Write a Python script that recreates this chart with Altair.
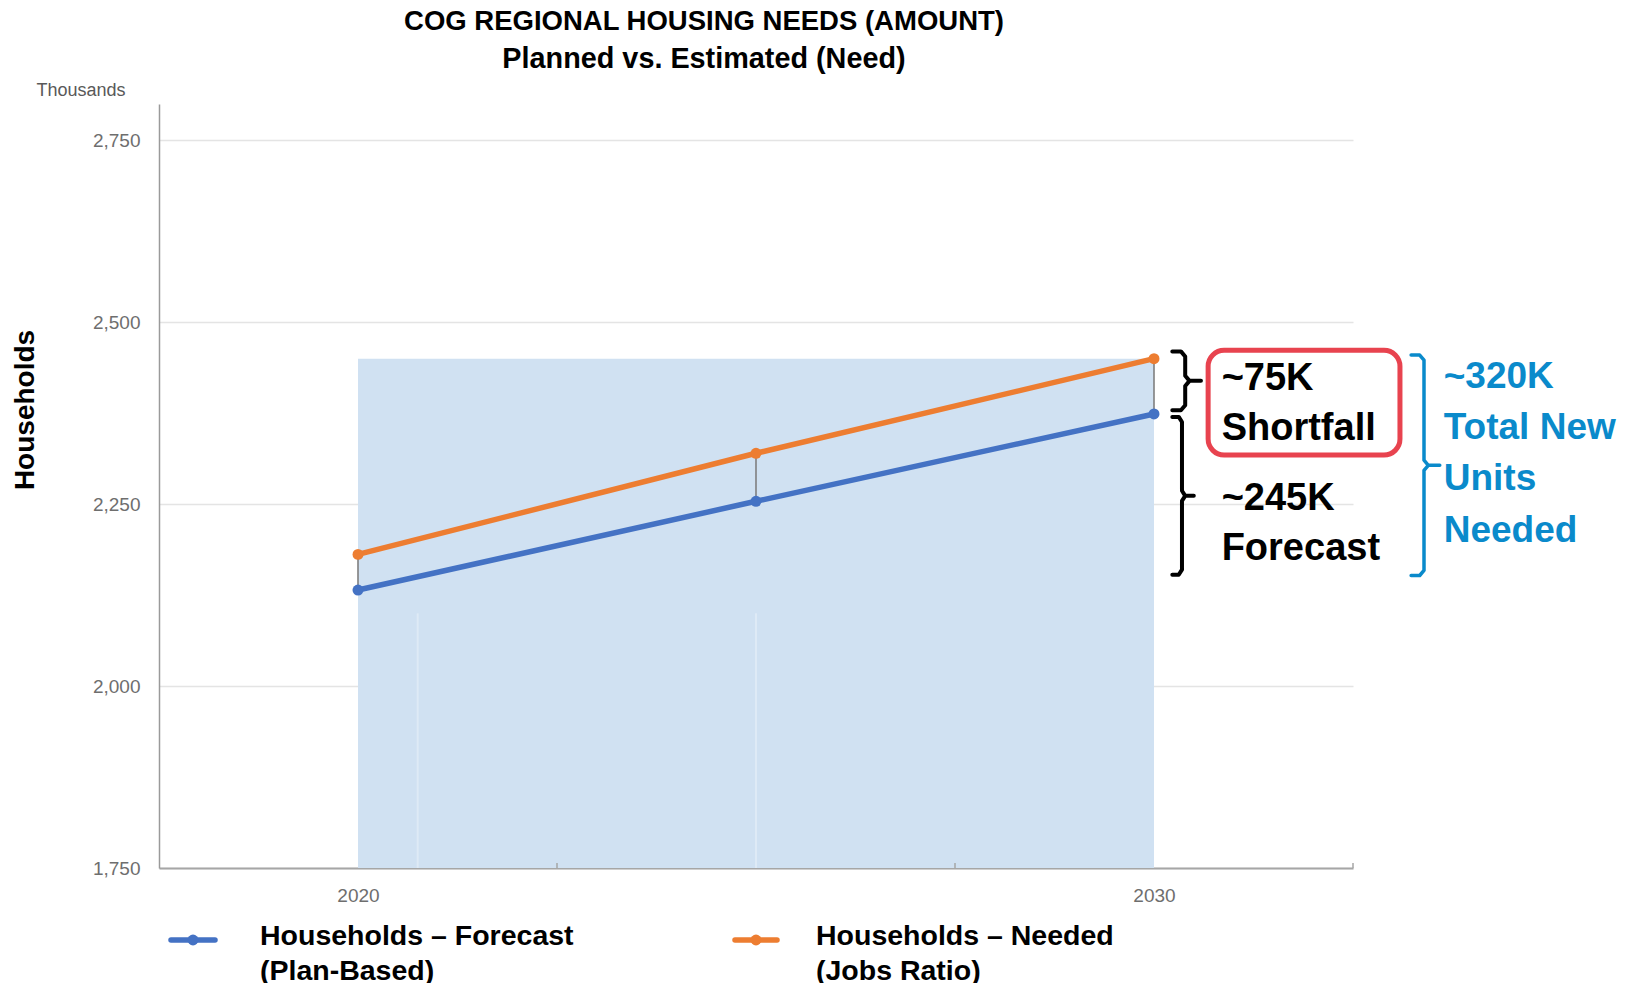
import altair as alt
import pandas as pd

# ---------------- data ----------------
years = [2020, 2025, 2030]
forecast = [2132, 2254, 2374]     # Households – Forecast (Plan-Based), thousands
needed = [2181, 2320, 2450]       # Households – Needed (Jobs Ratio), thousands
series_names = ["Households – Forecast", "Households – Needed"]
series_sub = ["(Plan-Based)", "(Jobs Ratio)"]
series_colors = ["#4472c4", "#ed7d31"]
y_ticks = [1750, 2000, 2250, 2500, 2750]
x_labels = [2020, 2030]
x_minor_ticks = [2022.5, 2027.5, 2032.5]
title_lines = ["COG REGIONAL HOUSING NEEDS (AMOUNT)", "Planned vs. Estimated (Need)"]
shortfall_text = ["~75K", "Shortfall"]
forecast_text = ["~245K", "Forecast"]
total_text = ["~320K", "Total New", "Units", "Needed"]

NARROW = "Liberation Sans Narrow, Arial Narrow, Liberation Sans, sans-serif"
SANS = "Liberation Sans, Arial, sans-serif"

xs = alt.Scale(domain=[2017.5, 2032.5], nice=False, zero=False)
ys = alt.Scale(domain=[1750, 2800], nice=False, zero=False)
xaxis = alt.Axis(values=x_labels, format="d", title=None, grid=False, ticks=False,
                 labelFontSize=19, labelColor="#6e6e6e", labelFont=SANS, labelPadding=18,
                 domainColor="#a6a6a6", domainWidth=2, labelBaseline="top")
yaxis = alt.Axis(values=y_ticks, format=",.0f", title=None, grid=True, gridColor="#e4e4e4",
                 gridWidth=1.5, ticks=False, labelFontSize=19, labelColor="#6e6e6e",
                 labelFont=SANS, labelPadding=19, domainColor="#9a9a9a", domainWidth=1.5)


def X(f):
    return alt.X(f, type="quantitative", scale=xs, axis=xaxis)


def Y(f):
    return alt.Y(f, type="quantitative", scale=ys, axis=yaxis)


long_df = pd.DataFrame({
    "year": years * 2,
    "value": forecast + needed,
    "series": [series_names[0]] * 3 + [series_names[1]] * 3,
})
wide_df = pd.DataFrame({"year": years, "forecast": forecast, "needed": needed})

# shaded background band
shade = alt.Chart(pd.DataFrame({"x": [years[0]], "x2": [years[-1]], "y": [y_ticks[0]],
                                "y2": [needed[-1]]})).mark_rect(color="#d0e1f2").encode(
    x=X("x"), x2="x2", y=Y("y"), y2="y2")

# faint light streaks in the band
streaks = alt.Chart(pd.DataFrame({"x": [2020.75, 2025.0], "y": [1750, 1750],
                                  "y2": [2100, 2100]})).mark_rule(
    color="white", opacity=0.3, strokeWidth=2).encode(x=X("x"), y=Y("y"), y2="y2")

# small inward ticks on x axis
minor = alt.Chart(pd.DataFrame({"x": x_minor_ticks, "y": [1750] * 3,
                                "y2": [1757] * 3})).mark_rule(
    color="#a6a6a6", strokeWidth=1.5).encode(x=X("x"), y=Y("y"), y2="y2")

# high-low connectors
hilo = alt.Chart(wide_df).mark_rule(color="#7f7f7f", strokeWidth=1.6).encode(
    x=X("year"), y=Y("forecast"), y2="needed")

color = alt.Color("series:N", scale=alt.Scale(domain=series_names, range=series_colors),
                  legend=None)
lines = alt.Chart(long_df).mark_line(strokeWidth=5.5, strokeCap="round").encode(
    x=X("year"), y=Y("value"), color=color)
points = alt.Chart(long_df).mark_circle(size=120, opacity=1).encode(
    x=X("year"), y=Y("value"), color=color)


# braces (annotation geometry)
def brace(name, x0, w, top, bottom, d):
    mid = (top + bottom) / 2
    xs_ = [x0, x0 + 0.3 * w, x0 + 0.45 * w, x0 + 0.45 * w, x0 + 0.6 * w, x0 + w,
           x0 + 0.6 * w, x0 + 0.45 * w, x0 + 0.45 * w, x0 + 0.3 * w, x0]
    ys_ = [top, top, top - d, mid + d, mid, mid, mid, mid - d, bottom + d, bottom, bottom]
    return pd.DataFrame({"g": name, "o": list(range(len(xs_))), "x": xs_, "y": ys_})


black_braces = pd.concat([
    brace("b1", 2030.23, 0.36, 2460, 2379, 7),
    brace("b2", 2030.23, 0.27, 2370, 2153, 7),
])
blue_brace = brace("b3", 2033.23, 0.36, 2455, 2152, 7)

braces_black = alt.Chart(black_braces).mark_line(
    color="black", strokeWidth=4, strokeJoin="round", strokeCap="round").encode(
    x=X("x"), y=Y("y"), detail="g:N", order="o:Q")
braces_blue = alt.Chart(blue_brace).mark_line(
    color="#0a8acb", strokeWidth=3.5, strokeJoin="round", strokeCap="round").encode(
    x=X("x"), y=Y("y"), detail="g:N", order="o:Q")

red_box = alt.Chart(pd.DataFrame({"x": [2030.68], "x2": [2033.09], "y": [2317.5],
                                  "y2": [2461.6]})).mark_rect(
    fillOpacity=0, stroke="#e8434f", strokeWidth=5, cornerRadius=16).encode(
    x=X("x"), x2="x2", y=Y("y"), y2="y2")

ann_black = pd.DataFrame({"x": [2030.85] * 4, "y": [2422, 2353, 2257, 2188],
                          "t": shortfall_text + forecast_text})
txt_black = alt.Chart(ann_black).mark_text(
    align="left", baseline="middle", font=SANS, fontWeight="bold", fontSize=38,
    color="black").encode(x=X("x"), y=Y("y"), text="t:N")
ann_blue = pd.DataFrame({"x": [2033.64] * 4, "y": [2425, 2355, 2285, 2213],
                         "t": total_text})
txt_blue = alt.Chart(ann_blue).mark_text(
    align="left", baseline="middle", font=SANS, fontWeight="bold", fontSize=37,
    color="#0a8acb").encode(x=X("x"), y=Y("y"), text="t:N")

# titles and labels
one = pd.DataFrame({"a": [0]})
title1 = alt.Chart(one).mark_text(text=title_lines[0], font=NARROW, fontWeight="bold",
                                  fontSize=27.5, color="black", align="center",
                                  baseline="middle").encode(x=alt.value(545), y=alt.value(-82))
title2 = alt.Chart(one).mark_text(text=title_lines[1], font=NARROW, fontWeight="bold",
                                  fontSize=28.8, color="black", align="center",
                                  baseline="middle").encode(x=alt.value(545), y=alt.value(-45))
thousands = alt.Chart(one).mark_text(text="Thousands", font=SANS, fontSize=18,
                                     color="#595959", align="center",
                                     baseline="middle").encode(x=alt.value(-78), y=alt.value(-13))
ytitle = alt.Chart(one).mark_text(text="Households", font=NARROW, fontWeight="bold",
                                  fontSize=28, color="black", align="center",
                                  baseline="middle", angle=270).encode(
    x=alt.value(-133), y=alt.value(306))

# custom legend
legend_layers = []
sym_x = [(12, 56), (576, 618)]
txt_x = [101, 657]
for i in range(2):
    x0, x1 = sym_x[i]
    legend_layers.append(alt.Chart(one).mark_rule(color=series_colors[i], strokeWidth=5.5,
                                                  strokeCap="round").encode(
        x=alt.value(x0), x2=alt.value(x1), y=alt.value(836)))
    legend_layers.append(alt.Chart(one).mark_circle(color=series_colors[i], size=120,
                                                    opacity=1).encode(
        x=alt.value((x0 + x1) / 2), y=alt.value(836)))
    legend_layers.append(alt.Chart(one).mark_text(text=series_names[i], font=NARROW,
                                                  fontWeight="bold", fontSize=28.5,
                                                  color="black", align="left",
                                                  baseline="middle").encode(
        x=alt.value(txt_x[i]), y=alt.value(832)))
    legend_layers.append(alt.Chart(one).mark_text(text=series_sub[i], font=NARROW,
                                                  fontWeight="bold", fontSize=28.5,
                                                  color="black", align="left",
                                                  baseline="middle").encode(
        x=alt.value(txt_x[i]), y=alt.value(867)))

chart = alt.layer(
    shade, streaks, minor, hilo, lines, points, braces_black, braces_blue, red_box,
    txt_black, txt_blue, title1, title2, thousands, ytitle, *legend_layers
).properties(
    width=1194, height=764,
    background="white",
    padding={"left": 151, "top": 96, "right": 268, "bottom": 115},
    autosize=alt.AutoSizeParams(type="none"),
).configure_view(stroke="transparent", strokeWidth=0)

chart.save("out.html", embed_options={"renderer": "svg", "actions": False})
